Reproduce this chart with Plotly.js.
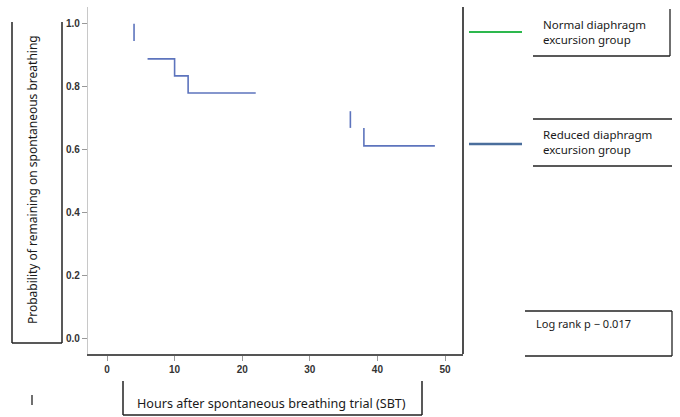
<!DOCTYPE html>
<html>
<head>
<meta charset="utf-8">
<script src="https://cdn.plot.ly/plotly-3.0.1.min.js"></script>
<style>html,body{margin:0;padding:0;background:#fff;}#chart{width:680px;height:417px;}</style>
</head>
<body>
<div id="chart"></div>
<script>
// ---- data ----
var stepHours   = [6, 10, 10, 12, 12, 22];
var stepSurv    = [0.886, 0.886, 0.832, 0.832, 0.778, 0.778];
var censor1Hours = [4, 4];
var censor1Surv  = [0.998, 0.943];
var censor2Hours = [36, 36];
var censor2Surv  = [0.72, 0.667];
var step2Hours  = [38, 38, 48.5];
var step2Surv   = [0.667, 0.61, 0.61];
var xTicks = [0, 10, 20, 30, 40, 50];
var yTicks = [0.0, 0.2, 0.4, 0.6, 0.8, 1.0];
var yTickText = ['0.0', '0.2', '0.4', '0.6', '0.8', '1.0'];
var seriesNames = ['Normal diaphragm<br>excursion group', 'Reduced diaphragm<br>excursion group'];
var pText = 'Log rank p − 0.017';

// ---- layout helpers (pixel -> paper) ----
var L = 88, R = 463, T = 7, B = 354;
function px(x) { return (x - L) / (R - L); }
function py(y) { return (B - y) / (B - T); }
function seg(x0, y0, x1, y1, color, w) {
  return {type: 'line', xref: 'paper', yref: 'paper', x0: px(x0), y0: py(y0), x1: px(x1), y1: py(y1),
          line: {color: color, width: w || 1.3}};
}
var curveColor = '#5d74bd';
var lineStyle = {color: curveColor, width: 1.6, shape: 'linear'};

var traces = [
  {x: stepHours, y: stepSurv, mode: 'lines', line: lineStyle, showlegend: false, hoverinfo: 'skip'},
  {x: censor1Hours, y: censor1Surv, mode: 'lines', line: lineStyle, showlegend: false, hoverinfo: 'skip'},
  {x: censor2Hours, y: censor2Surv, mode: 'lines', line: lineStyle, showlegend: false, hoverinfo: 'skip'},
  {x: step2Hours, y: step2Surv, mode: 'lines', line: lineStyle, showlegend: false, hoverinfo: 'skip'}
];

var textFont = {family: 'Noto Sans, sans-serif', size: 11.5, color: '#1a1a1a'};
var tickFont = {family: 'Liberation Sans, Arial, sans-serif', size: 10, color: '#333', weight: 'bold'};

var layout = {
  width: 680, height: 417,
  margin: {l: L, r: 680 - R, t: T, b: 417 - B},
  paper_bgcolor: '#fff', plot_bgcolor: '#fff',
  showlegend: false,
  xaxis: {
    range: [-2.81, 52.66], tickvals: xTicks, ticks: 'outside', ticklen: 5, tickcolor: '#999', tickwidth: 1,
    showgrid: false, zeroline: false, showline: true, linecolor: '#555', linewidth: 1.5,
    tickfont: tickFont, fixedrange: true
  },
  yaxis: {
    range: [-0.0508, 1.0508], tickvals: yTicks, ticktext: yTickText, ticks: 'outside', ticklen: 5, tickcolor: '#999', tickwidth: 1,
    showgrid: false, zeroline: false, showline: true, linecolor: '#c8c8c8', linewidth: 1.2,
    tickfont: tickFont, fixedrange: true
  },
  shapes: [
    seg(463, 7, 463, 354, '#222', 1.6),
    seg(12, 22, 12, 343, '#222', 1.5), seg(12, 343, 62, 343, '#222', 1.5), seg(62, 22, 62, 343, '#222', 1.5),
    seg(123, 381, 123, 415, '#222', 1.5), seg(123, 415, 422, 415, '#222', 1.5), seg(422, 381, 422, 415, '#222', 1.5),
    seg(469, 32, 522, 32, '#2db84d', 2.2),
    seg(469, 144, 522, 144, '#4a6e9c', 2.4),
    seg(670, 9, 670, 56, '#222', 1.3), seg(533, 56, 670, 56, '#222', 1.3),
    seg(533, 119, 672, 119, '#222', 1.3), seg(533, 166, 672, 166, '#222', 1.3),
    seg(525, 311, 672, 311, '#222', 1.3), seg(672, 311, 672, 356, '#222', 1.3), seg(525, 356, 672, 356, '#222', 1.3),
    seg(32, 395, 32, 405, '#222', 1.3)
  ],
  annotations: [
    {xref: 'paper', yref: 'paper', x: px(32), y: py(180), text: 'Probability of remaining on spontaneous breathing',
     textangle: -90, showarrow: false, font: {family: 'Noto Sans, sans-serif', size: 12, color: '#1a1a1a'}, xanchor: 'center', yanchor: 'middle'},
    {xref: 'paper', yref: 'paper', x: px(271), y: py(403), text: 'Hours after spontaneous breathing trial (SBT)',
     showarrow: false, font: {family: 'Noto Sans, sans-serif', size: 12.6, color: '#1a1a1a'}, xanchor: 'center', yanchor: 'middle'},
    {xref: 'paper', yref: 'paper', x: px(541), y: py(32), text: seriesNames[0], align: 'left',
     showarrow: false, font: textFont, xanchor: 'left', yanchor: 'middle'},
    {xref: 'paper', yref: 'paper', x: px(541), y: py(142), text: seriesNames[1], align: 'left',
     showarrow: false, font: textFont, xanchor: 'left', yanchor: 'middle'},
    {xref: 'paper', yref: 'paper', x: px(534), y: py(323), text: pText, align: 'left',
     showarrow: false, font: {family: 'Noto Sans, sans-serif', size: 11, color: '#1a1a1a'}, xanchor: 'left', yanchor: 'middle'}
  ]
};

Plotly.newPlot('chart', traces, layout, {displayModeBar: false, staticPlot: true});
</script>
</body>
</html>
